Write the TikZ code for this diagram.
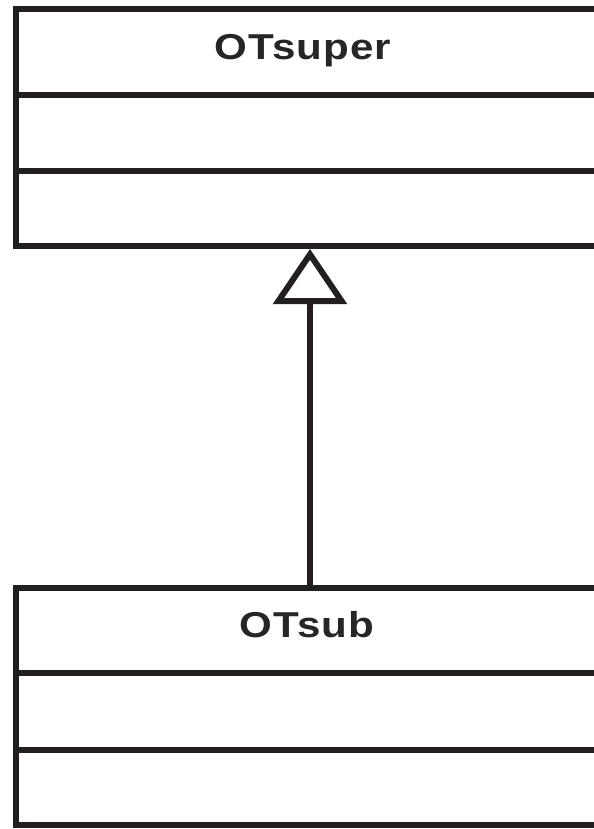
\documentclass[tikz,border=0pt]{standalone}
\usepackage{fontspec}
\setmainfont{Liberation Sans}
\usetikzlibrary{arrows.meta}
\definecolor{ink}{HTML}{231F20}
\definecolor{txt}{HTML}{262626}
\begin{document}
\begin{tikzpicture}[x=1bp,y=-1bp,
  classbox/.style={draw=ink, line width=6bp, minimum width=588bp, minimum height=237bp, inner sep=0pt, outer sep=3bp},
  sep/.style={draw=ink, line width=6bp},
  title/.style={text=txt, font=\fontsize{36bp}{42bp}\selectfont\bfseries\addfontfeatures{LetterSpace=2.5}, inner sep=0pt, anchor=base, xscale=1.17},
  inherit/.style={draw=ink, line width=6bp, -{Triangle[open, length=55bp, width=73bp, line join=miter]}}]
\useasboundingbox (0,0) rectangle (594,829);
\clip (0,0) rectangle (594,829);
\fill[white] (0,0) rectangle (594,829);
\node[classbox] (super) at (310,127.5) {};
\node[classbox] (sub) at (310,706.5) {};
\draw[sep] (super.west |- 0,95) coordinate (s1l) -- (super.east |- 0,95) coordinate (s1r);
\draw[sep] (super.west |- 0,171) coordinate (s2l) -- (super.east |- 0,171) coordinate (s2r);
\draw[sep] (sub.west |- 0,673) coordinate (b1l) -- (sub.east |- 0,673) coordinate (b1r);
\draw[sep] (sub.west |- 0,749.5) coordinate (b2l) -- (sub.east |- 0,749.5) coordinate (b2r);
\node[title] (supername) at (303,59.5) {OTsuper};
\node[title] (subname) at (307,637) {OTsub};
\draw[inherit] (sub.north) -- (super.south);
\end{tikzpicture}
\end{document}
